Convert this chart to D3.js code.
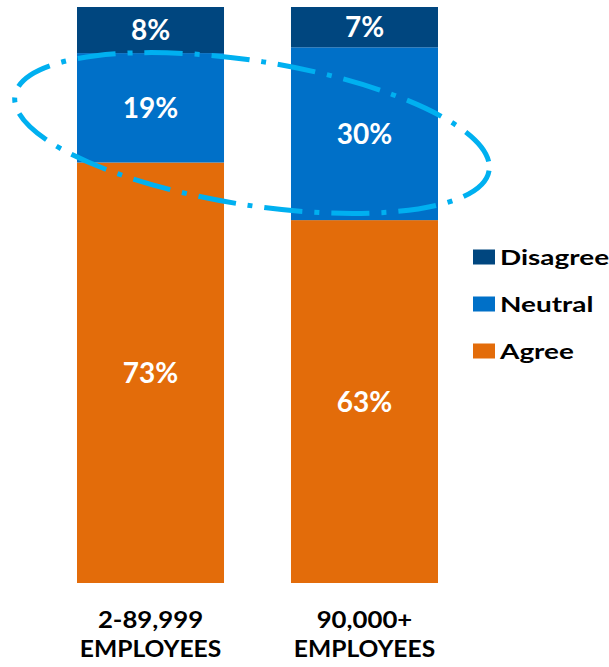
<!DOCTYPE html>
<html><head><meta charset="utf-8">
<script src="https://cdn.jsdelivr.net/npm/d3@7"></script>
<style>body{margin:0;background:#fff}svg{display:block}</style>
</head><body>
<svg id="chart" width="609" height="667"></svg>
<script>
const categories = ["2-89,999", "90,000+"];
const categorySub = ["EMPLOYEES", "EMPLOYEES"];
const seriesNames = ["Agree", "Neutral", "Disagree"];
const agree = [73, 63];
const neutral = [19, 30];
const disagree = [8, 7];
const colors = {Agree: "#E36C0A", Neutral: "#0070C8", Disagree: "#00467F"};
const legendOrder = ["Disagree", "Neutral", "Agree"];

const rows = categories.map((c, i) => ({cat: c, Agree: agree[i], Neutral: neutral[i], Disagree: disagree[i]}));
const svg = d3.select("#chart");
const font = "Lato, 'Open Sans', sans-serif";

const x = d3.scaleBand().domain(categories).range([77, 438]).paddingInner(0.313).paddingOuter(0);
const y = d3.scaleLinear().domain([0, 100]).range([583, 7]);

const stack = d3.stack().keys(seriesNames)(rows);

const g = svg.append("g");
stack.forEach(layer => {
  g.selectAll(null).data(layer).enter().append("rect")
    .attr("x", d => x(d.data.cat))
    .attr("width", x.bandwidth())
    .attr("y", d => y(d[1]))
    .attr("height", d => y(d[0]) - y(d[1]))
    .attr("fill", colors[layer.key]);
  g.selectAll(null).data(layer).enter().append("text")
    .attr("x", d => x(d.data.cat) + x.bandwidth() / 2)
    .attr("y", d => (y(d[0]) + y(d[1])) / 2)
    .attr("dy", "0.36em")
    .attr("text-anchor", "middle")
    .attr("fill", "#fff")
    .attr("font-family", font)
    .attr("font-weight", "bold")
    .attr("font-size", 28)
    .text(d => (d[1] - d[0]) + "%");
});

// x axis labels
categories.forEach((c, i) => {
  const cx = x(c) + x.bandwidth() / 2;
  [[c, 628, 1.12], [categorySub[i], 657, 1.07]].forEach(([txt, by, sx]) => {
    svg.append("text")
      .attr("transform", `translate(${cx},${by}) scale(${sx},1)`)
      .attr("text-anchor", "middle")
      .attr("font-family", font)
      .attr("font-weight", "bold")
      .attr("font-size", 23)
      .attr("fill", "#000")
      .text(txt);
  });
});

// legend
const lg = svg.append("g").attr("transform", "translate(473,0)");
legendOrder.forEach((k, i) => {
  const cy = 257 + i * 47;
  lg.append("rect").attr("x", 0).attr("y", cy - 7.5).attr("width", 22).attr("height", 15).attr("fill", colors[k]);
  lg.append("text").attr("transform", `translate(27,${cy}) scale(1.33,1)`).attr("dy", "0.36em")
    .attr("font-family", font).attr("font-weight", "bold").attr("font-size", 21)
    .attr("fill", "#000").text(k);
});

// highlight ellipse
svg.append("ellipse")
  .attr("transform", "translate(252,133) rotate(9)")
  .attr("rx", 240).attr("ry", 72)
  .attr("fill", "none")
  .attr("stroke", "#00B0F0")
  .attr("stroke-width", 5)
  .attr("stroke-dasharray", "38 12 5 12");
</script>
</body></html>
